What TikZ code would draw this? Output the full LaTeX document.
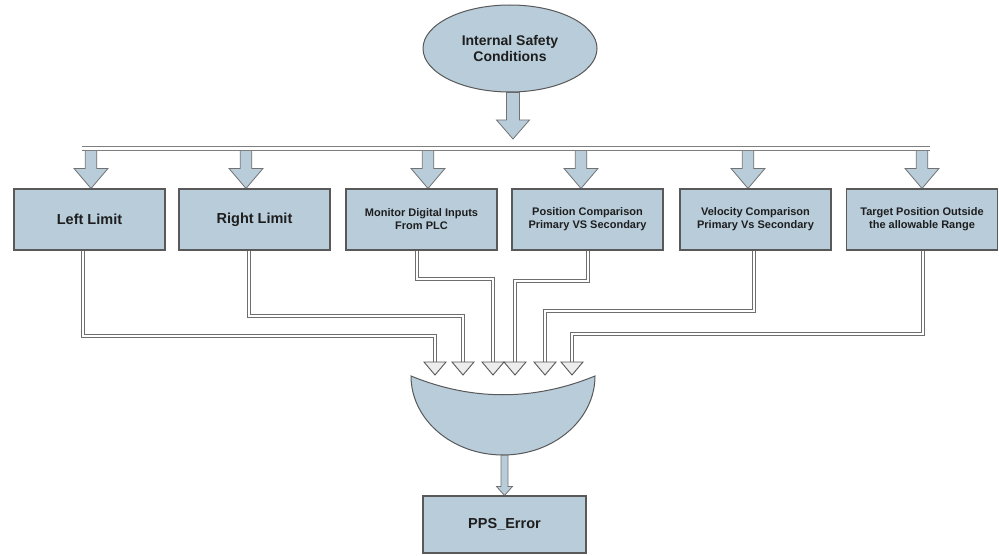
\documentclass[tikz,border=0pt]{standalone}
\usepackage{fontspec}
\setmainfont{Liberation Sans}
\usetikzlibrary{shapes.geometric,calc}

\definecolor{boxblue}{HTML}{B8CCDA}
\definecolor{edgegray}{HTML}{595959}
\definecolor{pipegray}{HTML}{6E6E6E}
\definecolor{bargray}{HTML}{7E7E7E}
\definecolor{headfill}{HTML}{EDEDED}
\definecolor{textdark}{HTML}{1E1E1E}

\pgfdeclarelayer{background}
\pgfsetlayers{background,main}

% Block arrow: #1 start point (only its y is used), #2 tip,
% #3 half shaft width, #4 half head width, #5 head length
\newcommand\blockarrow[5]{%
  \draw[blockarr] let \p1=#1, \p2=#2 in
    (\x2-#3,\y1) -- (\x2-#3,\y2+#5) -- (\x2-#4,\y2+#5) -- (\x2,\y2)
    -- (\x2+#4,\y2+#5) -- (\x2+#3,\y2+#5) -- (\x2+#3,\y1) -- cycle;}

% Hollow triangular head whose tip sits at #1
\newcommand\hollowhead[1]{%
  \draw[headstyle] let \p1=#1 in
    (\x1,\y1) -- (\x1-11pt,\y1+13pt) -- (\x1+11pt,\y1+13pt) -- cycle;}

\begin{document}
\begin{tikzpicture}[x=1pt,y=-1pt,
  box/.style={draw=edgegray, fill=boxblue, line width=1.1pt,
    minimum width=151pt, minimum height=61pt, inner sep=0pt,
    align=center, text=textdark},
  bigfont/.style={font=\fontsize{14.5}{16}\selectfont\bfseries},
  smallfont/.style={font=\fontsize{11}{13}\selectfont\bfseries},
  blockarr/.style={draw=edgegray!85, fill=boxblue, line width=0.8pt, line join=miter},
  headstyle/.style={draw=edgegray, fill=headfill, line width=0.9pt, line join=miter},
  pipe/.style={draw=pipegray, line width=1.2pt, double=white, double distance=2.2pt},
  barline/.style={draw=bargray, line width=1.2pt, double=white, double distance=2.4pt},
  gatestyle/.style={draw=edgegray, fill=boxblue, line width=1pt}]

\begin{pgfonlayer}{background}
  \fill[white] (0,0) rectangle (999,556);
\end{pgfonlayer}
\useasboundingbox (0,0) rectangle (999,556);

% Source of the conditions
\node[ellipse, draw=edgegray, fill=boxblue, line width=1pt,
      minimum width=174pt, minimum height=87pt, inner sep=0pt,
      align=center, text=textdark,
      font=\fontsize{14}{16}\selectfont\bfseries] (isc) at (510,48.5)
      {Internal Safety\\Conditions};

% Distribution bar
\coordinate (barL) at (82,148.5);
\coordinate (barR) at (930,148.5);
\coordinate (bartip) at (513,139);

% Condition boxes
\node[box, bigfont]   (l1) at (89.5,219.5)  {Left Limit};
\node[box, bigfont]   (l2) at (254.5,219.5) {Right Limit};
\node[box, smallfont] (l3) at (421.5,219.5) {Monitor Digital Inputs\\From PLC};
\node[box, smallfont] (l4) at (587.5,219.5) {Position Comparison\\Primary VS Secondary};
\node[box, smallfont] (l5) at (755.5,219.5) {Velocity Comparison\\Primary Vs Secondary};
\node[box, smallfont] (l6) at (922,219.5)   {Target Position Outside\\the allowable Range};

% Result box
\node[box, bigfont, minimum width=163pt, minimum height=57pt] (pps) at (504.5,524.5) {PPS\_Error};

% Combining gate
\coordinate (gateB) at (503,455);
\draw[gatestyle] (411,376) .. controls (472,401) and (534,401) .. (595,376)
  .. controls (595,419.6) and (553.8,455) .. (gateB)
  .. controls (452.2,455) and (411,419.6) .. (411,376) -- cycle;

% Block arrows (behind the nodes)
\begin{pgfonlayer}{background}
  \blockarrow{(isc.south)}{(bartip)}{6.5pt}{16.5pt}{19pt}
  \blockarrow{(barL)}{([xshift=1.5pt]l1.north)}{5.75pt}{17pt}{20pt}
  \blockarrow{(barL)}{([xshift=-8.5pt]l2.north)}{5.75pt}{17pt}{20pt}
  \blockarrow{(barL)}{([xshift=6.5pt]l3.north)}{5.75pt}{17pt}{20pt}
  \blockarrow{(barL)}{([xshift=-6.5pt]l4.north)}{5.75pt}{17pt}{20pt}
  \blockarrow{(barL)}{([xshift=-7.5pt]l5.north)}{5.75pt}{17pt}{20pt}
  \blockarrow{(barL)}{(l6.north)}{5.75pt}{17pt}{20pt}
  \blockarrow{(gateB)}{(pps.north)}{3.5pt}{8pt}{9pt}
\end{pgfonlayer}
\draw[barline] (barL) -- (barR);

% Inputs of the gate
\coordinate (t1) at (435,375);
\coordinate (t2) at (463,375);
\coordinate (t3) at (493,375);
\coordinate (t4) at (515,375);
\coordinate (t5) at (545,375);
\coordinate (t6) at (572,375);

\draw[pipe] ([xshift=-6.5pt]l1.south) |- ($(t1)+(0,-39)$) -- ($(t1)+(0,-13)$);
\draw[pipe] ([xshift=-5.5pt]l2.south) |- ($(t2)+(0,-59)$) -- ($(t2)+(0,-13)$);
\draw[pipe] ([xshift=-4.5pt]l3.south) |- ($(t3)+(0,-96)$) -- ($(t3)+(0,-13)$);
\draw[pipe] ([xshift=0.5pt]l4.south)  |- ($(t4)+(0,-94)$) -- ($(t4)+(0,-13)$);
\draw[pipe] ([xshift=-1.5pt]l5.south) |- ($(t5)+(0,-64)$) -- ($(t5)+(0,-13)$);
\draw[pipe] ([xshift=1pt]l6.south)    |- ($(t6)+(0,-41)$) -- ($(t6)+(0,-13)$);

\hollowhead{(t1)}
\hollowhead{(t2)}
\hollowhead{(t3)}
\hollowhead{(t4)}
\hollowhead{(t5)}
\hollowhead{(t6)}

\end{tikzpicture}
\end{document}
